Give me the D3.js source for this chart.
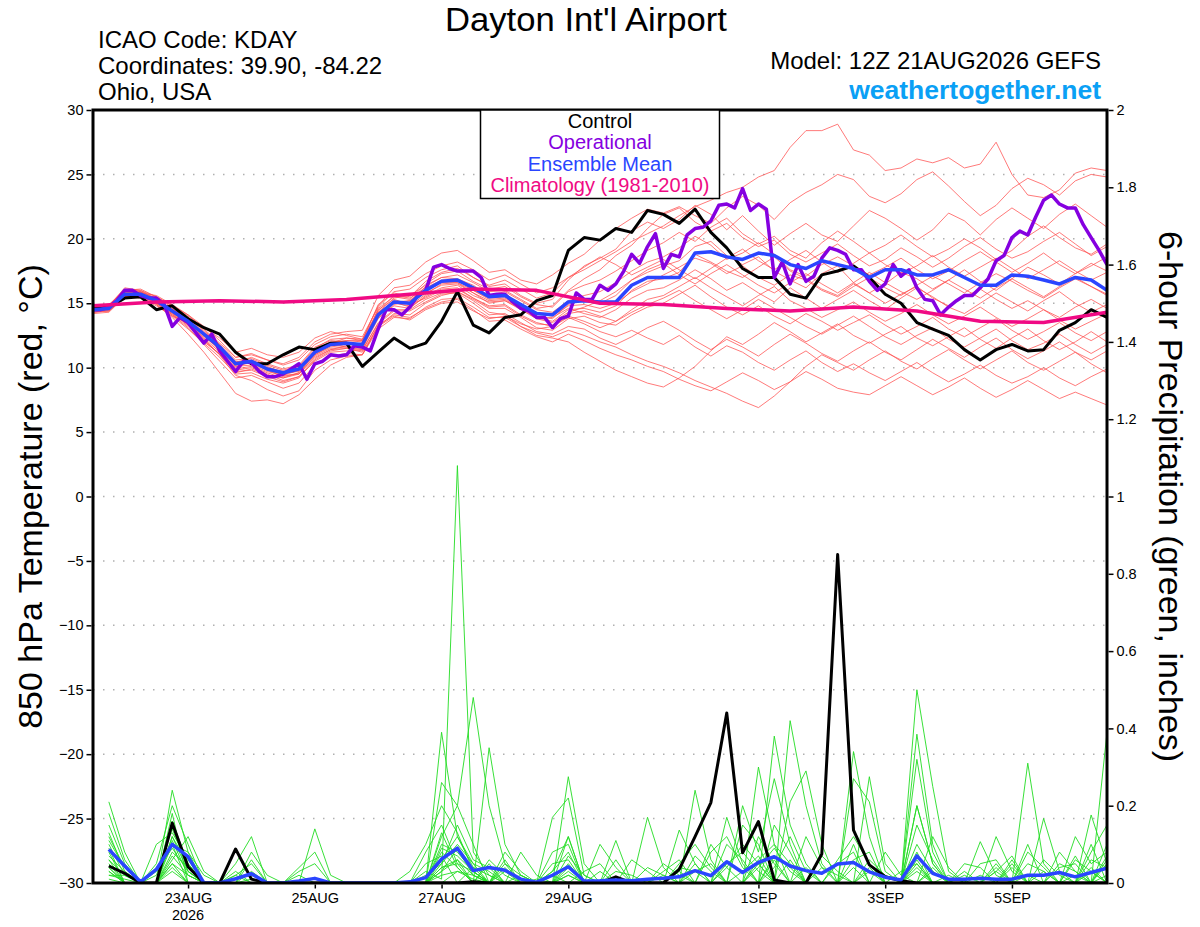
<!DOCTYPE html>
<html lang="en">
<head>
    <meta charset="utf-8">
    <title>Dayton Int'l Airport - GEFS</title>
    <style>
        body { margin: 0; background: #fff; }
        svg text { font-family: "Liberation Sans", Arial, Helvetica, sans-serif; }
    </style>
    <script type="text/javascript" src="https://d3js.org/d3.v7.min.js"></script>
</head>
<body>
<div class="chart"></div>
<script type="text/javascript">
// ---- data (6-hourly from 12Z 21AUG2026, index 0..64) ----
const runStart = Date.UTC(2026, 7, 21, 12);
const runEnd = Date.UTC(2026, 8, 6, 12);

const tempTicks = [-30, -25, -20, -15, -10, -5, 0, 5, 10, 15, 20, 25, 30];
const precipTicks = [0, 0.2, 0.4, 0.6, 0.8, 1, 1.2, 1.4, 1.6, 1.8, 2];
const precipTickLabels = ["0", "0.2", "0.4", "0.6", "0.8", "1", "1.2", "1.4", "1.6", "1.8", "2"];
const xTickDays = ["2026-08-23", "2026-08-25", "2026-08-27", "2026-08-29", "2026-09-01", "2026-09-03", "2026-09-05"];
const xTickLabels = ["23AUG", "25AUG", "27AUG", "29AUG", "1SEP", "3SEP", "5SEP"];

// control run 850 hPa temperature
const controlTemp = [14.6,14.7,15.4,15.5,14.5,14.8,13.8,13.1,12.6,11.2, 10.3,10.3,11.0,11.6,11.4,11.9,11.9,10.1,11.2,12.3,
    11.5,11.9,13.6,15.9,13.3,12.7,13.9,14.1,15.2,15.6, 19.1,20.1,19.9,20.8,20.5,22.2,21.9,21.2,22.3,20.5,
    19.3,17.7,17.0,17.0,15.7,15.4,17.2,17.5,17.9,17.0, 15.7,15.0,13.5,13.0,12.5,11.4,10.6,11.4,11.8,11.3, 11.4,12.9,13.5,14.5,13.9];

// ensemble mean temperature
const meanTemp = [14.5,14.6,15.7,15.7,15.2,14.4,13.6,12.6,11.6,10.3, 10.5,9.9,9.6,9.9,11.2,11.8,11.9,11.8,14.1,15.1,
    15.0,16.0,16.7,16.8,16.2,15.5,15.6,14.9,14.2,14.1, 15.1,15.2,15.1,15.1,16.4,17.0,17.0,17.0,18.9,19.0,
    18.6,18.4,18.9,18.7,18.0,17.7,18.3,18.0,17.7,17.0, 17.6,17.6,17.2,17.2,17.6,17.0,16.4,16.4,17.2,17.1, 16.8,16.5,17.0,16.8,16.0];

// operational run, 3-hourly (index 0..128)
const operTemp = [14.5,14.5,14.7,15.2,16.0,16.0,15.6,15.4,15.4,14.9, 13.2,13.9,13.5,12.7,11.9,12.6,11.3,10.5,9.7,10.5,
    10.4,9.7,9.3,9.3,9.5,9.9,10.3,9.1,10.3,10.5, 11.0,10.9,11.0,11.7,11.6,11.3,13.0,14.5,14.5,14.1,
    14.7,15.6,16.0,17.8,18.0,17.7,17.5,17.5,17.5,17.0, 15.6,15.7,15.7,15.1,14.6,14.4,13.9,13.9,13.1,13.8,
    14.0,15.8,15.3,15.3,16.4,16.0,16.5,17.5,18.8,18.1, 19.4,20.4,17.7,18.8,18.6,20.3,20.8,20.9,21.4,22.6,
    22.7,22.4,23.9,22.2,22.7,22.3,17.0,18.2,16.5,18.0, 16.7,17.1,18.5,19.3,19.1,18.8,17.6,17.6,16.7,16.0,
    16.5,18.0,17.1,17.6,16.2,15.3,15.2,14.1,14.7,15.2, 15.6,15.6,16.2,16.9,18.3,18.7,20.1,20.6,20.3,21.7,
    23.0,23.4,22.7,22.4,22.4,21.1,20.1,19.1,18.0];

// climatology 1981-2010, daily (index 0..16)
const climTemp = [14.8,15.1,15.2,15.1,15.3,15.7,16.1,16.0,15.0,14.9,14.6,14.4,14.7,14.4,13.6,13.5,14.3];

// ensemble members 850 hPa temperature
const tempMembers = [
 [14.7,14.9,16.0,16.1,15.5,14.8,14.0,13.1,12.3,11.2,11.5,11.0,10.8,11.2,12.3,12.8,12.5,12.2, 14.8,16.2,16.4,17.3,17.9,18.2,17.6,16.8,17.2,16.5,15.8,16.2,17.0,17.6,18.3,19.0,19.8,20.4, 21.0,21.8,22.5,23.0,23.6,24.0,24.8,25.3,27.1,28.4,28.4,28.9,26.9,26.5,25.3,25.5,26.2,25.9,26.3,25.5,25.8,27.5,25.0,23.4,23.2,23.8,25.1,25.5,25.3],
 [14.4,14.5,15.9,15.8,15.6,14.9,14.1,13.0,11.9,10.8,11.0,10.6,10.3,10.8,12.0,12.6,12.8,12.9, 15.6,16.8,17.1,18.2,18.9,19.1,18.3,17.4,17.6,16.8,16.5,17.2,18.1,18.8,19.9,20.8,21.6,22.3, 22.0,22.5,21.8,21.2,22.4,23.3,22.6,21.5,22.8,23.6,24.2,25.0,24.6,23.3,22.8,23.5,24.6,25.2,24.1,22.9,21.8,22.6,23.9,24.7,24.2,23.4,24.5,25.0,24.8],
 [14.6,14.7,15.6,15.9,15.0,14.1,13.4,12.2,11.0,9.6,9.9,9.4,9.2,9.6,11.1,11.9,12.3,12.1, 14.9,15.8,15.5,16.7,17.4,17.7,17.0,16.3,16.5,15.6,15.0,15.3,16.8,17.9,18.5,19.2,20.6,21.3, 20.8,21.5,22.6,21.9,20.7,21.8,20.6,19.5,20.4,21.2,20.3,19.8,21.0,22.2,21.6,20.8,19.9,20.7,22.0,21.4,20.3,21.5,22.4,21.6,20.8,21.9,22.7,21.8,20.9],
 [14.3,14.4,15.4,15.5,15.1,14.5,13.9,12.9,11.8,10.1,10.2,9.7,9.4,9.5,10.9,11.5,11.6,11.5, 13.8,14.9,15.2,16.3,17.0,17.2,16.6,15.9,16.0,15.3,14.6,14.8,16.0,16.9,17.6,18.7,19.5,20.8, 21.9,22.4,21.3,20.6,21.2,20.1,19.4,19.9,18.8,18.2,18.9,19.6,18.7,17.9,18.4,19.3,18.6,17.8,18.5,19.4,20.1,19.2,18.5,19.0,19.8,20.5,19.6,18.7,19.4],
 [14.8,14.8,16.2,16.0,15.3,14.3,13.3,12.4,11.5,10.4,10.8,10.3,9.9,10.2,11.6,12.1,12.0,11.8, 14.6,15.5,15.3,16.5,17.3,17.5,16.7,16.1,16.3,15.5,14.9,14.7,15.9,16.4,16.8,17.5,18.3,19.1, 19.7,20.5,19.8,20.9,21.6,20.4,19.6,20.2,19.1,18.5,19.7,20.6,19.8,18.9,19.5,20.3,19.4,18.6,19.2,20.0,19.3,18.4,19.1,20.2,21.0,20.1,19.3,18.8,19.6],
 [14.5,14.6,15.8,15.6,15.0,14.2,13.2,12.0,11.1,9.8,10.0,9.5,9.0,9.3,10.5,11.2,11.3,11.4, 14.3,15.4,15.6,16.4,17.0,16.9,16.4,15.6,15.9,15.2,14.5,14.3,15.2,15.6,15.9,16.6,17.5,18.2, 18.6,19.3,20.2,19.5,18.4,18.9,19.7,18.8,17.6,17.1,18.0,18.6,17.9,17.2,17.8,18.5,17.6,16.9,17.5,18.3,19.0,18.2,17.4,18.1,18.9,18.0,17.3,17.9,18.6],
 [14.2,14.3,15.5,15.4,14.8,14.0,13.5,12.7,11.7,10.5,10.3,9.8,9.5,9.8,11.0,11.6,11.8,11.9, 14.0,15.0,14.8,15.7,16.5,16.6,16.0,15.4,15.5,14.8,14.0,13.8,14.9,15.3,15.0,15.6,16.8,17.4, 17.9,18.3,19.4,19.8,18.7,18.0,18.6,17.5,16.8,16.2,17.3,17.9,16.6,15.8,16.5,17.4,16.9,16.1,16.8,17.6,16.7,16.0,16.9,17.8,17.2,16.5,17.3,18.1,17.5],
 [14.6,14.5,15.7,15.8,15.2,14.6,13.7,12.5,11.3,10.0,10.6,10.1,9.6,9.7,11.4,12.0,12.1,12.0, 14.2,15.2,15.0,15.8,16.4,16.5,15.8,15.0,15.2,14.6,14.2,14.0,14.8,14.9,14.6,15.0,15.9,16.5, 17.2,17.8,18.5,18.1,17.3,17.9,17.0,16.4,17.2,16.8,16.0,15.5,16.3,17.0,16.2,15.6,16.4,17.1,16.5,15.8,16.6,17.3,16.7,16.0,15.4,16.2,16.9,16.3,15.7],
 [14.4,14.6,15.8,15.7,15.4,14.7,13.8,12.8,11.8,10.6,10.7,10.2,9.8,10.1,11.5,12.2,12.3,12.2, 14.4,15.6,15.4,16.2,16.8,16.8,16.0,15.3,15.4,14.7,13.9,13.6,14.5,14.6,14.3,14.8,16.0,16.7, 16.9,17.4,18.8,18.2,17.5,17.0,17.8,18.6,17.5,16.9,16.1,15.6,16.5,15.8,15.0,15.7,16.3,15.4,14.8,15.5,16.1,15.3,14.6,15.2,14.5,13.9,14.7,15.3,14.6],
 [14.5,14.4,15.5,15.6,15.0,14.2,13.6,12.6,11.5,10.2,10.4,9.9,9.4,9.8,11.3,11.9,12.0,11.7, 13.9,14.8,14.6,15.6,16.2,16.4,15.6,15.1,15.2,14.5,13.8,13.9,14.6,14.2,13.9,14.5,15.4,16.0, 16.2,16.8,17.6,16.9,16.0,16.6,15.8,15.1,16.2,15.4,14.6,15.3,16.0,15.2,14.5,15.4,16.2,15.5,14.7,14.2,15.0,15.8,15.1,14.4,15.2,15.9,15.0,14.3,14.9],
 [14.6,14.8,16.1,15.9,15.3,14.4,13.5,12.3,11.2,9.9,10.1,9.6,9.2,9.5,10.8,11.4,11.7,11.6, 14.5,15.3,14.9,15.4,16.0,16.1,15.4,14.7,14.8,14.0,13.4,13.3,14.2,14.4,14.0,13.6,14.5,15.3, 15.6,16.3,17.0,16.2,15.5,14.8,15.6,16.3,15.2,14.6,13.9,14.5,15.1,14.3,13.6,14.2,14.9,14.1,13.4,14.0,14.7,13.9,13.2,13.8,14.5,13.7,13.0,13.6,14.2],
 [14.3,14.5,15.6,15.5,14.9,14.0,13.0,11.9,10.8,9.5,9.6,9.1,8.8,9.2,10.6,11.3,11.5,11.3, 13.5,14.5,14.5,15.3,15.8,15.9,15.3,14.6,14.6,13.9,13.1,12.9,13.8,14.0,13.5,13.3,14.1,14.7, 15.0,15.7,16.4,15.5,14.7,14.1,14.8,14.0,13.4,14.2,13.6,12.9,13.5,14.1,13.3,12.6,13.2,13.9,13.0,12.4,13.1,13.8,12.9,12.2,12.8,13.5,12.7,12.1,12.8],
 [14.7,14.6,15.9,15.7,15.1,14.3,13.4,12.2,11.0,9.7,9.8,9.3,8.9,9.3,10.7,11.4,11.5,11.2, 13.2,14.2,14.1,15.0,15.6,15.9,15.2,14.3,14.1,13.2,12.5,12.3,12.0,11.2,10.5,9.8,9.3,8.8, 8.5,9.2,10.1,11.3,12.4,11.8,12.6,13.5,12.8,12.0,12.7,13.4,12.5,11.9,12.6,13.2,12.3,11.7,12.4,13.1,12.2,11.5,12.3,13.0,12.1,11.4,12.0,12.8,12.0],
 [14.4,14.7,15.7,15.8,15.2,14.6,13.6,12.5,11.4,10.1,10.4,10.0,9.7,10.0,11.3,11.8,11.6,11.4, 13.4,14.4,14.4,15.1,15.7,15.8,15.0,14.1,14.2,13.5,12.8,12.6,13.2,13.0,12.3,11.8,12.4,13.1, 13.6,12.9,12.1,11.4,12.2,11.6,10.9,11.8,12.6,11.9,11.1,10.5,11.3,12.0,11.2,10.6,11.4,12.2,11.5,10.8,11.6,12.3,11.4,10.7,11.3,12.0,11.2,10.6,11.3],
 [14.5,14.6,15.6,15.7,15.0,14.1,13.1,11.8,10.5,9.2,9.4,8.9,8.4,8.8,10.2,10.9,11.1,11.0, 13.0,13.9,13.8,14.7,15.3,15.4,14.7,13.9,13.9,13.2,12.7,12.4,12.9,12.5,12.0,11.6,11.0,10.5, 10.1,9.6,9.0,8.5,8.0,7.4,6.9,7.8,8.9,10.1,11.0,10.4,9.8,10.6,11.3,10.5,9.9,10.7,11.4,10.6,9.9,10.6,11.3,10.4,9.8,10.5,11.2,10.3,9.6],
 [14.6,14.5,15.8,15.9,15.4,14.5,13.7,12.6,11.6,10.4,10.5,9.8,9.3,9.6,11.0,11.7,11.9,11.8, 14.1,15.1,14.7,15.5,16.1,16.2,15.4,14.8,14.9,14.1,13.5,13.2,13.9,13.4,12.8,12.4,12.9,12.3, 11.8,12.5,11.6,10.9,11.7,11.2,10.4,9.8,10.6,11.3,10.4,9.7,10.3,9.6,9.0,9.7,10.4,9.6,8.9,9.5,10.2,9.4,8.8,9.3,10.0,9.2,8.6,9.3,9.9],
 [14.3,14.4,15.5,15.6,15.1,14.3,13.3,12.1,11.0,9.4,9.0,8.3,7.8,8.2,9.8,10.6,10.9,11.0, 13.3,14.1,13.9,14.6,15.1,15.3,14.5,13.6,13.7,13.0,12.4,12.0,12.6,12.1,11.5,11.0,10.6,10.1, 9.7,9.1,8.6,8.2,8.9,9.6,9.0,8.3,8.9,9.7,9.1,8.4,8.1,7.9,8.6,9.3,8.6,7.9,8.5,9.2,8.4,7.7,8.3,9.0,8.3,7.6,8.1,7.6,7.1],
 [14.5,14.7,15.9,15.8,14.9,13.9,12.6,11.2,9.6,8.0,7.4,7.5,7.2,7.9,9.1,10.2,10.8,11.0, 13.2,14.0,13.7,14.5,15.0,15.1,14.4,13.8,14.0,13.4,13.0,13.2,14.0,13.6,13.1,13.6,14.3,14.9, 15.4,16.0,15.2,14.5,13.8,14.5,15.3,14.6,13.9,13.2,12.6,13.3,14.0,13.2,12.4,11.8,12.5,13.1,12.2,11.6,12.3,13.0,12.1,11.4,11.9,12.6,11.8,11.1,11.8],
 [14.6,14.8,16.0,16.0,15.5,14.8,14.1,13.2,12.1,10.8,11.1,10.6,10.2,10.6,11.8,12.4,12.6,12.4, 14.7,15.9,16.1,17.0,17.6,17.9,17.0,16.4,16.8,16.1,15.4,15.8,17.0,17.8,18.6,18.0,17.2,17.8, 18.4,17.6,16.9,17.7,18.5,19.2,18.3,17.6,18.4,19.1,18.2,17.4,18.1,18.9,18.0,17.3,17.9,18.7,17.8,17.1,17.8,18.5,17.7,16.9,17.6,18.3,17.5,16.8,17.4],
 [14.4,14.5,15.6,15.7,15.3,14.5,13.7,12.7,11.7,10.3,10.4,9.9,9.6,9.9,11.2,11.9,12.1,12.1, 14.3,15.1,15.2,16.0,16.6,16.6,15.8,15.2,15.3,14.6,13.8,13.5,14.3,14.7,15.2,15.9,16.8,17.6, 18.1,17.2,16.5,17.3,18.0,17.2,16.4,15.8,16.6,17.3,16.5,15.8,16.6,17.4,16.6,15.9,15.3,16.0,16.8,16.1,15.4,16.2,16.9,16.2,15.5,16.3,17.0,16.3,15.6]
];

// 6-hour precipitation (inches), index 1..64
const controlPrecip = [0.044,0.025,0,0,0.155,0.042,0,0, 0.088,0.01,0,0,0,0,0,0, 0,0,0,0,0,0,0,0.003, 0,0,0,0,0,0,0,0,
    0.016,0,0,0,0.035,0.12,0.208,0.44, 0.078,0.159,0.008,0,0,0.075,0.85,0.137, 0.047,0.016,0.006,0,0,0,0,0, 0,0,0,0,0,0,0,0];
const meanPrecip = [0.087,0.044,0.003,0.035,0.1,0.068,0,0, 0.011,0.024,0,0,0.005,0.012,0,0, 0,0,0,0.003,0.014,0.062,0.09,0.032,
    0.04,0.033,0.01,0.002,0.02,0.042,0.005,0.006, 0.008,0.006,0.01,0.012,0.016,0.032,0.019,0.055, 0.027,0.053,0.068,0.044,0.032,0.025,0.049,0.053,
    0.029,0.015,0.008,0.07,0.025,0.01,0.01,0.012, 0.01,0.01,0.02,0.02,0.027,0.016,0.027,0.038];
const precipMembers = [
 [0.21,0.08,0,0,0.12,0.05,0,0, 0,0,0,0,0,0,0,0, 0,0,0,0,0,0.39,0.12,0.04, 0,0,0,0,0.03,0.12,0,0, 0,0,0,0,0,0.05,0,0, 0,0.3,0.1,0,0,0,0,0, 0,0,0,0.2,0.05,0,0,0, 0,0,0,0,0,0,0.08,0.15],
 [0.06,0,0,0.05,0.2,0.1,0,0, 0,0,0,0,0,0,0,0, 0,0,0,0,0.03,0.01,1.08,0.08, 0.02,0,0,0,0,0.05,0,0, 0,0,0,0,0.03,0,0,0, 0,0,0.38,0.15,0.05,0,0,0.1, 0,0,0,0.05,0,0,0,0, 0,0,0.31,0.05,0,0,0,0],
 [0.12,0.04,0,0,0.24,0.08,0,0, 0.05,0.12,0,0,0,0,0,0, 0,0,0,0,0,0.26,0.2,0.48, 0.2,0.05,0,0,0,0,0,0, 0,0,0.17,0.04,0,0,0,0.17, 0.05,0,0,0,0,0,0,0.34, 0.12,0,0,0.5,0.25,0.03,0,0, 0,0,0,0,0,0,0,0.39],
 [0.09,0,0,0,0.15,0.03,0,0, 0,0,0,0,0,0.14,0.02,0, 0,0,0,0,0.08,0.15,0.05,0, 0.35,0.1,0.02,0,0,0.275,0.05,0, 0,0,0,0,0,0.24,0.06,0, 0,0,0,0.42,0.2,0.05,0,0, 0,0,0,0.385,0.1,0,0,0, 0.12,0.03,0,0,0,0,0,0],
 [0.15,0.05,0,0,0.18,0,0,0, 0.03,0,0,0,0,0,0,0, 0,0,0,0.03,0.1,0.2,0.13,0.03, 0,0,0,0,0.17,0.22,0.02,0, 0.11,0,0,0,0,0,0,0, 0.2,0.08,0.27,0.1,0,0,0,0, 0.275,0.05,0,0.32,0.08,0,0,0, 0,0,0,0.167,0.03,0,0,0],
 [0.04,0,0,0.1,0.13,0.06,0,0, 0,0.06,0,0,0.04,0.08,0,0, 0,0,0,0,0,0.1,0.08,0.03, 0,0.08,0.03,0,0,0.12,0,0, 0,0,0,0,0.137,0.05,0,0, 0,0.12,0.05,0,0,0,0,0.27, 0.21,0.03,0,0,0,0,0,0.107, 0.02,0,0,0,0,0,0.176,0.05],
 [0.02,0.01,0,0,0.1,0,0,0, 0.02,0.05,0,0,0,0,0,0, 0,0,0,0,0,0.05,0.15,0.06, 0.04,0,0.08,0.02,0,0,0,0.1, 0.04,0,0,0,0,0,0.1,0.04, 0,0,0,0.21,0.29,0.1,0,0, 0,0,0,0.2,0.05,0,0,0, 0.05,0,0.1,0,0,0.07,0,0],
 [0.07,0.03,0,0,0.08,0.04,0,0, 0,0,0,0,0.02,0,0,0, 0,0,0,0,0,0.12,0.2,0.1, 0,0.06,0,0,0.08,0.1,0,0, 0,0.06,0.03,0,0,0,0,0, 0.15,0.1,0,0,0,0,0.05,0.08, 0,0,0,0,0.12,0.04,0,0, 0,0.06,0,0,0.08,0.03,0,0.1],
 [0.05,0,0,0.04,0.1,0.08,0.02,0, 0,0,0,0,0,0,0,0, 0,0,0,0,0,0.08,0.04,0, 0.05,0,0,0,0.03,0.08,0,0, 0,0,0,0.05,0.02,0,0,0.1, 0.06,0,0.15,0.08,0,0,0,0, 0.06,0.02,0,0.08,0,0,0.05,0.04, 0,0,0.05,0.03,0,0,0.1,0],
 [0.1,0.02,0,0,0.05,0,0,0, 0,0.03,0,0,0,0,0,0, 0,0,0,0,0.02,0.05,0.1,0.05, 0,0,0,0,0,0.04,0,0, 0.06,0,0,0,0,0.07,0.03,0, 0,0.06,0.1,0.05,0,0,0,0.04, 0,0,0,0.1,0.03,0,0,0, 0.04,0,0,0,0,0.12,0.05,0.08],
 [0.03,0,0,0,0.07,0.02,0,0, 0,0,0,0,0,0,0,0, 0,0,0,0,0,0.03,0.06,0.02, 0,0.04,0,0,0,0,0,0, 0,0,0.04,0.02,0,0,0,0, 0,0,0.06,0,0.12,0.04,0,0, 0,0.08,0.02,0,0,0,0.03,0, 0,0.05,0,0,0,0,0.06,0.04],
 [0.01,0,0,0.03,0.09,0.03,0,0, 0.01,0.02,0,0,0,0,0,0, 0,0,0,0,0,0.02,0.03,0.01, 0,0,0.02,0,0,0.02,0,0, 0,0,0,0,0,0,0,0.04, 0.1,0.05,0,0,0,0,0.06,0.12, 0.05,0,0,0,0.03,0,0,0, 0,0,0.08,0.04,0,0.02,0,0],
 [0.08,0,0,0,0.03,0,0,0, 0,0,0,0,0,0,0,0, 0,0,0,0,0,0.06,0.12,0.05, 0.03,0,0,0,0.05,0.06,0,0, 0,0,0,0,0.05,0.1,0.04,0, 0,0,0,0.06,0,0,0,0, 0,0,0,0.15,0.06,0,0,0, 0,0,0,0,0.05,0.03,0,0.06],
 [0.18,0.06,0,0,0.11,0.02,0,0, 0,0,0,0,0.03,0.05,0,0, 0,0,0,0,0.05,0.07,0,0.04, 0.02,0,0,0,0,0,0.03,0.05, 0,0,0,0,0,0,0.08,0.12, 0.04,0,0,0,0,0.07,0.03,0, 0,0,0,0,0,0.02,0,0, 0.03,0.07,0,0,0,0,0,0.02],
 [0.04,0,0,0,0.06,0.12,0.03,0, 0,0,0,0,0,0,0,0, 0,0,0,0,0,0.03,0.09,0.02, 0,0.03,0,0.01,0,0.03,0,0, 0,0,0,0.02,0,0,0,0, 0,0.04,0.09,0.03,0,0,0,0, 0.04,0,0,0.06,0,0,0,0.02, 0,0,0,0.06,0.02,0,0.04,0],
 [0.02,0.02,0,0,0.04,0,0,0, 0,0.01,0,0,0,0,0,0, 0,0,0,0,0,0.04,0.05,0.03, 0,0,0,0,0.02,0,0,0, 0,0,0,0,0.04,0.03,0,0, 0,0,0.04,0.12,0.03,0,0,0, 0,0,0,0.04,0,0,0,0, 0,0,0.02,0,0,0.06,0.03,0],
 [0.06,0.02,0,0,0.16,0.05,0,0, 0,0,0,0,0,0,0,0, 0,0,0,0,0,0.09,0.07,0.03, 0,0,0,0,0,0.07,0.02,0, 0,0,0,0,0,0,0,0.05, 0.08,0.03,0,0,0,0,0,0.06, 0.08,0,0,0,0.04,0,0,0, 0.03,0,0,0,0.04,0.05,0,0],
 [0.13,0.03,0,0.02,0.14,0.04,0,0, 0.02,0,0,0,0,0,0,0, 0,0,0,0,0,0.13,0.04,0, 0.06,0.02,0,0,0,0,0,0.03, 0,0,0,0,0,0.03,0.05,0, 0,0,0.07,0.04,0,0,0,0, 0,0,0.03,0.05,0,0,0,0, 0,0.04,0,0,0,0,0,0.07],
 [0.03,0,0,0,0.05,0.02,0,0, 0,0,0,0,0,0,0,0, 0,0,0,0,0,0,0.03,0.02, 0,0,0,0,0,0.02,0,0, 0,0,0,0.03,0.06,0,0,0, 0,0.05,0,0,0.04,0,0,0, 0.03,0,0,0,0,0,0.02,0, 0,0,0,0.03,0,0,0.03,0],
 [0.11,0.04,0,0,0.12,0.03,0,0, 0,0.08,0.02,0,0,0,0,0, 0,0,0,0,0,0.04,0.06,0, 0,0.05,0.02,0,0,0,0,0, 0.03,0.02,0,0,0,0,0,0, 0.03,0.07,0,0,0,0.04,0.02,0, 0,0,0,0.03,0,0,0,0.05, 0.06,0,0,0,0,0,0,0.05]
];

// ---- layout ----
const width = 1200, height = 927;
const plotL = 93, plotR = 1107, plotT = 110, plotB = 883;
const HOUR = 3600 * 1000;

const svg = d3.select('.chart')
    .append('svg')
    .attr('width', width)
    .attr('height', height);

const xScale = d3.scaleUtc()
    .domain([new Date(runStart), new Date(runEnd)])
    .range([plotL, plotR]);
const tScale = d3.scaleLinear()
    .domain([-30, 30])
    .range([plotB, plotT]);
const pScale = d3.scaleLinear()
    .domain([0, 2])
    .range([plotB, plotT]);

const stepTime = (i, hrs) => new Date(runStart + i * hrs * HOUR);

svg.append('clipPath').attr('id', 'plotclip')
    .append('rect')
    .attr('x', plotL).attr('y', plotT)
    .attr('width', plotR - plotL).attr('height', plotB - plotT);

// dotted grid at each 5 C
svg.append('g')
    .selectAll('line')
    .data(tempTicks.filter(d => d > -30 && d < 30))
    .enter()
    .append('line')
    .attr('x1', plotL).attr('x2', plotR)
    .attr('y1', d => tScale(d)).attr('y2', d => tScale(d))
    .attr('stroke', '#b0b0b0')
    .attr('stroke-width', 1.5)
    .attr('stroke-dasharray', '1.5,8.5');

const plot = svg.append('g').attr('clip-path', 'url(#plotclip)');

const tLine = d3.line().x((d, i) => xScale(stepTime(i, 6))).y(d => tScale(d));
const tLine3 = d3.line().x((d, i) => xScale(stepTime(i, 3))).y(d => tScale(d));
const tLineDay = d3.line().x((d, i) => xScale(stepTime(i, 24))).y(d => tScale(d));
const pLine = d3.line().x((d, i) => xScale(stepTime(i + 1, 6))).y(d => pScale(d));

plot.selectAll('path.member-t')
    .data(tempMembers)
    .enter()
    .append('path')
    .attr('class', 'member-t')
    .attr('d', tLine)
    .attr('fill', 'none')
    .attr('stroke', '#ff5050')
    .attr('stroke-opacity', 0.85)
    .attr('stroke-width', 0.9);

plot.selectAll('path.member-p')
    .data(precipMembers)
    .enter()
    .append('path')
    .attr('class', 'member-p')
    .attr('d', pLine)
    .attr('fill', 'none')
    .attr('stroke', '#22dd22')
    .attr('stroke-width', 0.9);

function addLine(data, gen, color, w) {
    plot.append('path')
        .datum(data)
        .attr('d', gen)
        .attr('fill', 'none')
        .attr('stroke', color)
        .attr('stroke-width', w)
        .attr('stroke-linejoin', 'round');
}

addLine(controlPrecip, pLine, '#000000', 3);
addLine(meanPrecip, pLine, '#2a45ff', 3.5);
addLine(controlTemp, tLine, '#000000', 3);
addLine(operTemp, tLine3, '#8500e0', 3.5);
addLine(meanTemp, tLine, '#2a45ff', 3.5);
addLine(climTemp, tLineDay, '#f00a84', 3.5);

// axes
const leftAxis = d3.axisLeft(tScale).tickValues(tempTicks).tickSize(5).tickPadding(3);
svg.append('g')
    .attr('transform', `translate(${plotL - 1.5},0)`)
    .call(leftAxis)
    .call(g => g.select('.domain').remove())
    .call(g => g.selectAll('line').attr('stroke-width', 1.5))
    .call(g => g.selectAll('text').attr('font-size', 14.5).attr('fill', '#000'));

const rightAxis = d3.axisRight(pScale).tickValues(precipTicks).tickSize(5).tickPadding(3)
    .tickFormat((d, i) => precipTickLabels[i]);
svg.append('g')
    .attr('transform', `translate(${plotR + 1.5},0)`)
    .call(rightAxis)
    .call(g => g.select('.domain').remove())
    .call(g => g.selectAll('line').attr('stroke-width', 1.5))
    .call(g => g.selectAll('text').attr('font-size', 14.5).attr('fill', '#000'));

const parseDay = d3.utcParse('%Y-%m-%d');
const bottomAxis = d3.axisBottom(xScale)
    .tickValues(xTickDays.map(parseDay))
    .tickSize(4).tickPadding(4)
    .tickFormat((d, i) => xTickLabels[i]);
svg.append('g')
    .attr('transform', `translate(0,${plotB + 1.5})`)
    .call(bottomAxis)
    .call(g => g.select('.domain').remove())
    .call(g => g.selectAll('line').attr('stroke-width', 1.5))
    .call(g => g.selectAll('text').attr('font-size', 14.5).attr('fill', '#000'));

svg.append('text')
    .attr('x', xScale(parseDay(xTickDays[0])))
    .attr('y', 920)
    .attr('text-anchor', 'middle')
    .attr('font-size', 14.5)
    .text('2026');

// frame
svg.append('rect')
    .attr('x', plotL).attr('y', plotT)
    .attr('width', plotR - plotL).attr('height', plotB - plotT)
    .attr('fill', 'none')
    .attr('stroke', '#000')
    .attr('stroke-width', 3);

// legend
const legend = svg.append('g');
legend.append('rect')
    .attr('x', 480.5).attr('y', plotT)
    .attr('width', 239).attr('height', 88.5)
    .attr('fill', '#fff')
    .attr('stroke', '#000')
    .attr('stroke-width', 1.5);
const legendItems = [
    {label: 'Control', color: '#000000'},
    {label: 'Operational', color: '#8500e0'},
    {label: 'Ensemble Mean', color: '#2a45ff'},
    {label: 'Climatology (1981-2010)', color: '#f00a84'}
];
legend.selectAll('text')
    .data(legendItems)
    .enter()
    .append('text')
    .attr('x', 600)
    .attr('y', (d, i) => 128 + i * 21.3)
    .attr('text-anchor', 'middle')
    .attr('font-size', 20)
    .attr('fill', d => d.color)
    .text(d => d.label);

// titles
svg.append('text')
    .attr('x', 586).attr('y', 31)
    .attr('text-anchor', 'middle')
    .attr('font-size', 33)
    .attr('textLength', 282)
    .attr('lengthAdjust', 'spacingAndGlyphs')
    .text("Dayton Int'l Airport");

const info = ['ICAO Code: KDAY', 'Coordinates: 39.90, -84.22', 'Ohio, USA'];
svg.selectAll('text.info')
    .data(info)
    .enter()
    .append('text')
    .attr('class', 'info')
    .attr('x', 98)
    .attr('y', (d, i) => 48 + i * 26)
    .attr('font-size', 24)
    .text(d => d);

svg.append('text')
    .attr('x', 1101).attr('y', 69)
    .attr('text-anchor', 'end')
    .attr('font-size', 24)
    .text('Model: 12Z 21AUG2026 GEFS');

svg.append('text')
    .attr('x', 1101).attr('y', 99)
    .attr('text-anchor', 'end')
    .attr('font-size', 26.5)
    .attr('font-weight', 'bold')
    .attr('fill', '#0aa0f5')
    .text('weathertogether.net');

// axis titles
svg.append('text')
    .attr('transform', `translate(33,${(plotT + plotB) / 2}) rotate(-90)`)
    .attr('text-anchor', 'middle')
    .attr('dominant-baseline', 'middle')
    .attr('font-size', 34)
    .text('850 hPa Temperature (red, \u00B0C)');

svg.append('text')
    .attr('transform', `translate(1168,${(plotT + plotB) / 2}) rotate(90)`)
    .attr('text-anchor', 'middle')
    .attr('dominant-baseline', 'middle')
    .attr('font-size', 34)
    .text('6-hour Precipitation (green, inches)');
</script>
</body>
</html>
